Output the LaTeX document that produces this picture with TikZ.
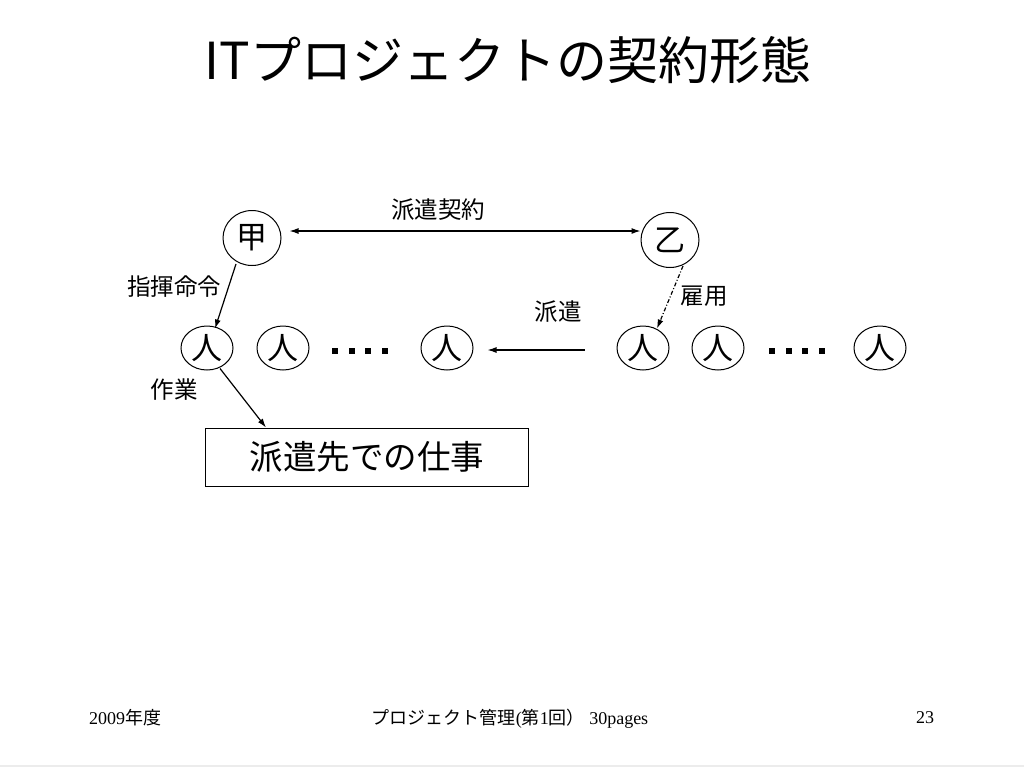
\documentclass[tikz,border=0pt]{standalone}
\usepackage{fontspec}
\setmainfont{Liberation Serif}
\newfontfamily\jpfont{Noto Sans CJK JP}
\usetikzlibrary{%
  arrows.meta,%
  calc,%
  shapes.geometric%
}
\tikzset{>={Latex[length=9pt,width=6pt]}}
\tikzset{
  party/.style={draw,line width=1pt,ellipse,inner sep=0pt,minimum width=58pt,minimum height=55pt,font=\jpfont\fontsize{31}{33}\selectfont},
  person/.style={draw,line width=1pt,ellipse,inner sep=0pt,minimum width=52pt,minimum height=44pt,font=\jpfont\fontsize{31}{33}\selectfont},
  lbl/.style={font=\jpfont\fontsize{23.5}{26}\selectfont},
  foot/.style={font=\fontsize{18}{20}\selectfont},
  link/.style={line width=1.2pt}
}
\newcommand\sqdots{\rule{6pt}{6pt}\hspace{10.7pt}\rule{6pt}{6pt}\hspace{10.7pt}\rule{6pt}{6pt}\hspace{10.7pt}\rule{6pt}{6pt}}

\begin{document}
\begin{tikzpicture}[x=1pt,y=-1pt]
  \useasboundingbox (0,0) rectangle (1024,768);
  \fill[white] (0,0) rectangle (1024,768);
  \draw[gray!15,line width=2pt] (0,766) -- (1024,766);
  % title
  \node (title) at (508,60) {\jpfont\fontsize{51}{57}\selectfont ITプロジェクトの契約形態};
  % parties
  \node[party] (ko) at (252,238) {甲};
  \node[party] (otsu) at (670,240) {乙};
  \draw[link,<->] (ko.east) ++(8,-7) coordinate (a1) -- (a1 -| otsu.west);
  \node[lbl] (contract) at (438,210) {派遣契約};
  % workers
  \node[person] (p1) at (207,348) {人};
  \node[person] (p2) at (283,348) {人};
  \node (dotsA) at (360,351) {\sqdots};
  \node[person] (p3) at (447,348) {人};
  \node[person] (p4) at (643,348) {人};
  \node[person] (p5) at (718,348) {人};
  \node (dotsB) at (797,351) {\sqdots};
  \node[person] (p6) at (880,348) {人};
  % relations
  \draw[link,->] ($(ko.south)+(-16,-2)$) -- ($(p1.north)+(8,3)$);
  \node[lbl] (order) at (174,287) {指揮命令};
  \draw[link,->,dash pattern=on 4pt off 2pt on 1pt off 2pt] ($(otsu.south)+(13,-2)$) -- ($(p4.north)+(14,3)$);
  \node[lbl] (hire) at (704,296) {雇用};
  \draw[link,->] ($(p4.west)+(-32,2)$) -- ($(p3.east)+(14,2)$);
  \node[lbl] (dispatch) at (558,312) {派遣};
  \node[draw,line width=1pt,minimum width=323pt,minimum height=58pt,font=\jpfont\fontsize{33.5}{36}\selectfont] (task) at (367,457) {派遣先での仕事};
  \draw[link,->] ($(p1.south)+(13,-2)$) -- ($(task.north west)+(61,0)$);
  \node[lbl] (work) at (174,390) {作業};
  % footer
  \node[foot] (year) at (125,718) {2009{\jpfont 年度}};
  \node[foot] (course) at (510,719) {{\jpfont プロジェクト管理}({\jpfont 第}1{\jpfont 回）}\ 30pages};
  \node[foot] (page) at (925,718) {23};
\end{tikzpicture}
\end{document}
